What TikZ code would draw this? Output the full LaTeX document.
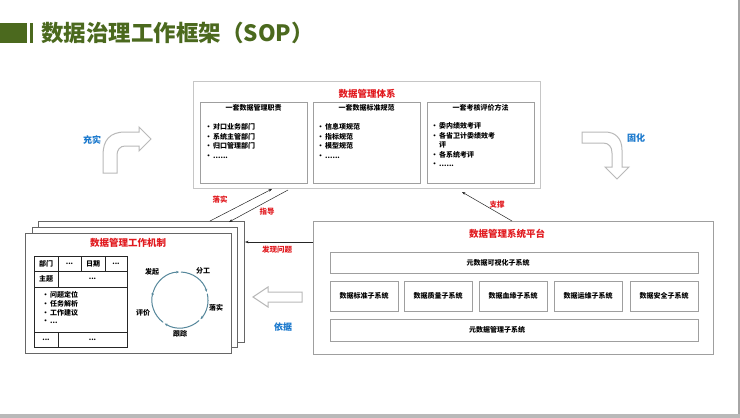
\documentclass[tikz,border=0pt]{standalone}
\usepackage{fontspec}
\setmainfont{Noto Sans CJK SC}
\usetikzlibrary{arrows.meta,shadows}
\definecolor{ttlgreen}{RGB}{75,105,30}
\definecolor{hired}{RGB}{225,25,30}
\definecolor{lblblue}{RGB}{25,120,205}
\definecolor{cycblue}{RGB}{85,135,155}
\newcommand{\bul}{\makebox[8pt][l]{•}}
\begin{document}
\begin{tikzpicture}[x=1pt,y=-1pt,
  box/.style={draw=gray!75,line width=0.7pt,fill=white,inner sep=0pt,
    drop shadow={shadow xshift=0.9pt,shadow yshift=-0.9pt,fill=gray!60,opacity=1}},
  lightbox/.style={draw=gray!45,line width=0.6pt,fill=white,inner sep=0pt},
  card/.style={draw=gray!80!black,line width=0.9pt,fill=white,inner sep=0pt},
  redttl/.style={text=hired,font=\fontsize{9.5}{11}\selectfont\bfseries},
  subttl/.style={font=\fontsize{7}{8}\selectfont\bfseries},
  small/.style={font=\fontsize{7}{9.5}\selectfont\bfseries},
  clab/.style={text=hired,font=\fontsize{7.5}{9}\selectfont\bfseries},
  blab/.style={text=lblblue,font=\fontsize{9}{10}\selectfont\bfseries},
  conn/.style={draw=gray!30!black,line width=0.5pt},
  tip/.style={-{Stealth[length=3.5pt,width=2.6pt]}},
  hollow/.style={draw=gray!55,line width=1pt,fill=white},
  cyc/.style={draw=cycblue,line width=1pt,-{Stealth[length=3pt,width=2.6pt]}},
  tbl/.style={draw=gray!30!black,line width=0.8pt}
]
\useasboundingbox (0,0) rectangle (740,418);
\fill[white] (0,0) rectangle (740,418);
\fill[gray!70] (738,0) rectangle (740,418);
\fill[gray!55] (0,413.5) rectangle (740,418);

% title
\fill[ttlgreen] (0,23) rectangle (27,43);
\fill[ttlgreen] (30,23) rectangle (33,43);
\node[anchor=west,text=ttlgreen,font=\fontsize{22.5}{24}\selectfont\bfseries,inner sep=0pt] (title) at (41,33) {数据治理工作框架（SOP）};

% ---------- top system box
\node[lightbox,minimum width=347,minimum height=107] (sys) at (366.5,134.5) {};
\node[redttl] (sysT) at (367,94) {数据管理体系};
\node[box,minimum width=107,minimum height=81] (b1) at (253.5,142.5) {};
\node[box,minimum width=107,minimum height=81] (b2) at (366.5,142.5) {};
\node[box,minimum width=107,minimum height=81] (b3) at (480.5,142.5) {};
\node[subttl] (b1t) at (253.5,108) {一套数据管理职责};
\node[subttl] (b2t) at (366.5,108) {一套数据标准规范};
\node[subttl] (b3t) at (480.5,108) {一套考核评价方法};
\node[small,anchor=north west,align=left,inner sep=0pt] (b1l) at (205,123.5)
  {\bul 对口业务部门\\ \bul 系统主管部门\\ \bul 归口管理部门\\ \bul ......};
\node[small,anchor=north west,align=left,inner sep=0pt] (b2l) at (317,123.5)
  {\bul 信息项规范\\ \bul 指标规范\\ \bul 模型规范\\ \bul ......};
\node[small,anchor=north west,align=left,inner sep=0pt] (b3l) at (431,122.5)
  {\bul 委内绩效考评\\ \bul 各省卫计委绩效考\\ \makebox[8pt]{}评\\ \bul 各系统考评\\ \bul ......};

% ---------- bent arrows
\draw[hollow] (103,173) -- (103,155) .. controls (103,140) and (110,132) .. (125,132)
  -- (139,132) -- (139,127) -- (151,139) -- (139,151) -- (139,146) -- (125,146)
  .. controls (120,146) and (117,150) .. (117,155) -- (117,173) -- cycle;
\node[blab] (lchongshi) at (92,140) {充实};
\draw[hollow] (582,132) -- (605,132) .. controls (615,132) and (622,138) .. (622,150)
  -- (622,167) -- (629,167) -- (617,179) -- (605,167) -- (612,167) -- (612,153)
  .. controls (612,147) and (609,143) .. (603,143) -- (582,143) -- cycle;
\node[blab] (lguhua) at (636,138) {固化};

% ---------- platform
\node[box,minimum width=400,minimum height=133] (plat) at (513,287.5) {};
\node[redttl] (platT) at (507,234) {数据管理系统平台};
\node[box,minimum width=368,minimum height=21] (vis) at (514,262.5) {};
\node[small] (visT) at (498,262.5) {元数据可视化子系统};
\node[box,minimum width=68,minimum height=30,small] (s1) at (364,296) {数据标准子系统};
\node[box,minimum width=68,minimum height=30,small] (s2) at (438,296) {数据质量子系统};
\node[box,minimum width=68,minimum height=30,small] (s3) at (513,296) {数据血缘子系统};
\node[box,minimum width=68,minimum height=30,small] (s4) at (588,296) {数据运维子系统};
\node[box,minimum width=68,minimum height=30,small] (s5) at (664,296) {数据安全子系统};
\node[box,minimum width=368,minimum height=22] (meta) at (514,330) {};
\node[small] (metaT) at (497,330) {元数据管理子系统};

% ---------- cards
\node[card,minimum width=206,minimum height=121] (cback) at (141,281.5) {};
\node[card,minimum width=205,minimum height=120] (cmid) at (134.5,287) {};
\node[card,minimum width=206,minimum height=120] (cfront) at (128,293) {};
\node[redttl] (cardT) at (128,243) {数据管理工作机制};

% table
\draw[tbl] (34,256) rectangle (127,347);
\draw[tbl] (34,271) -- (127,271);
\draw[tbl] (34,287) -- (127,287);
\draw[tbl] (34,332) -- (127,332);
\draw[tbl] (58,256) -- (58,287);
\draw[tbl] (81,256) -- (81,271);
\draw[tbl] (105,256) -- (105,271);
\draw[tbl] (58,332) -- (58,347);
\node[subttl] (t11) at (46,263.5) {部门};
\node[small] (t12) at (69.5,263.5) {...};
\node[subttl] (t13) at (93,263.5) {日期};
\node[small] (t14) at (116,263.5) {...};
\node[subttl] (t21) at (46,279) {主题};
\node[small] (t22) at (92.5,279) {...};
\node[small,anchor=north west,align=left,inner sep=0pt,font=\fontsize{7}{8.7}\selectfont\bfseries] (tl) at (42,291.5)
  {\bul 问题定位\\ \bul 任务解析\\ \bul 工作建议\\ \bul ...};
\node[small] (t41) at (46,339.5) {...};
\node[small] (t42) at (92.5,339.5) {...};

% cycle
\coordinate (cyc) at (180,300);
\draw[cyc] ([shift={(-88:28)}]cyc) arc[start angle=-88,end angle=-17,radius=28];
\draw[cyc] ([shift={(-13:28)}]cyc) arc[start angle=-13,end angle=43,radius=28];
\draw[cyc] ([shift={(47:28)}]cyc) arc[start angle=47,end angle=123,radius=28];
\draw[cyc] ([shift={(127:28)}]cyc) arc[start angle=127,end angle=197,radius=28];
\draw[cyc] ([shift={(-163:28)}]cyc) arc[start angle=-163,end angle=-92,radius=28];
\node[subttl] (c1) at (152,272) {发起};
\node[subttl] (c2) at (203,271) {分工};
\node[subttl] (c3) at (216,308) {落实};
\node[subttl] (c4) at (180,334) {跟踪};
\node[subttl] (c5) at (143,313) {评价};

% ---------- connectors
\coordinate (pA1) at (210,221);
\coordinate (pA2) at (272,189);
\coordinate (pB1) at (288,190);
\coordinate (pB2) at (229,222);
\coordinate (pC1) at (512,221);
\coordinate (pC2) at (462,192);
\coordinate (pD1) at (313,242);
\coordinate (pD2) at (245,242);
\draw[conn,tip] (pA1) -- (pA2);
\draw[conn,tip] (pB1) -- (pB2);
\draw[conn,tip] (pC1) -- (pC2);
\draw[conn,tip] (pD1) -- (pD2);
\node[clab] (l1) at (220,200) {落实};
\node[clab] (l2) at (267,212) {指导};
\node[clab] (l3) at (497,205) {支撑};
\node[clab] (l4) at (277,250) {发现问题};

% 依据 arrow
\draw[hollow] (253,297) -- (268,287) -- (268,292) -- (302,292) -- (302,302) -- (268,302) -- (268,307) -- cycle;
\node[blab] (lyiju) at (283,327) {依据};
\end{tikzpicture}
\end{document}
